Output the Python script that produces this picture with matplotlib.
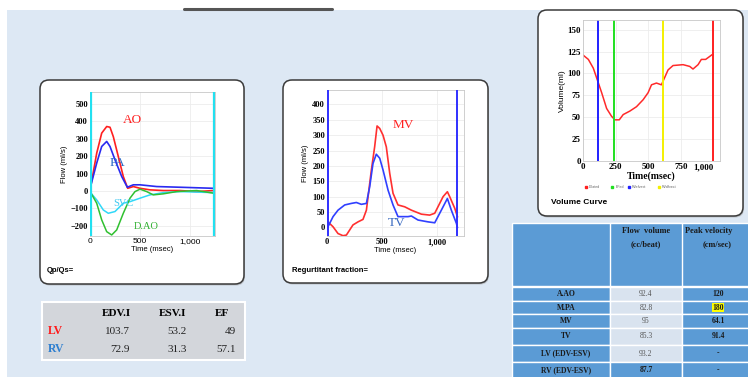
import matplotlib
matplotlib.use('Agg')
import matplotlib.pyplot as plt
from matplotlib.patches import FancyBboxPatch, Rectangle

W, H = 748, 377
SERIF = 'Liberation Serif'
SANS = 'Liberation Sans'

# flow curves (Qp/Qs panel)
t_ao = [10, 67, 117, 167, 200, 233, 283, 333, 377, 433, 500, 600, 733, 900, 1067, 1233]
f_ao = [35, 217, 333, 371, 367, 313, 198, 83, 15, 25, 15, 6, 2, 2, -4, 2]
t_pa = [10, 67, 117, 167, 200, 250, 317, 373, 433, 500, 667, 900, 1233]
f_pa = [35, 160, 256, 285, 256, 179, 83, 21, 35, 35, 25, 21, 15]
t_svc = [10, 67, 133, 183, 250, 333, 400, 500, 600, 733, 900, 1233]
f_svc = [-13, -52, -110, -129, -119, -71, -62, -42, -23, -10, -4, -10]
t_dao = [10, 67, 117, 167, 217, 267, 333, 400, 450, 500, 567, 633, 733, 867, 1067, 1233]
f_dao = [-13, -71, -167, -235, -254, -225, -129, -42, -4, 10, -4, -23, -17, -4, 2, -13]

# valve flow (regurgitant panel)
t_mv = [9, 55, 100, 145, 176, 236, 282, 327, 358, 403, 433, 455, 479, 509, 539, 570, 600,
        645, 706, 767, 858, 933, 979, 1024, 1055, 1094, 1115, 1161, 1185]
f_mv = [18, 2, -20, -27, -25, 8, 18, 26, 56, 186, 262, 330, 322, 300, 262, 176, 111,
        73, 67, 56, 43, 40, 46, 78, 100, 116, 100, 62, 35]
t_tv = [9, 55, 100, 161, 221, 267, 312, 358, 388, 418, 448, 479, 509, 555, 600, 645, 736,
        767, 827, 918, 979, 1039, 1094, 1130, 1176, 1185]
f_tv = [2, 35, 56, 73, 78, 81, 75, 78, 132, 208, 238, 225, 187, 121, 73, 35, 35,
        37, 24, 18, 15, 56, 94, 56, 13, 0]

# volume curve
t_vol = [0, 41, 79, 118, 143, 181, 219, 245, 278, 308, 359, 410, 461, 499, 525, 563, 601,
         622, 652, 690, 767, 818, 843, 882, 907, 940, 995]
v_vol = [121, 116, 106, 89, 78, 60, 51, 47, 47, 53, 57, 62, 70, 78, 87, 89, 87,
         94, 104, 109, 110, 108, 105, 110, 116, 116, 122]
vol_markers = [112, 240, 614, 995]
vol_marker_colors = ['#2020ff', '#20e020', '#f4f000', '#ff2020']
vol_legend = ['Dilated', 'EFed', 'RVefvect', 'RVdfvect']
vol_legend_colors = ['#ff2020', '#20e020', '#2020ff', '#f4f000']

# ventricle table
vent_cols = ['EDV.I', 'ESV.I', 'EF']
vent_rows = ['LV', 'RV']
lv_vals = ['103.7', '53.2', '49']
rv_vals = ['72.9', '31.3', '57.1']

# flow table
flow_rows = ['A.AO', 'M.PA', 'MV', 'TV', 'LV (EDV-ESV)', 'RV (EDV-ESV)']
flow_volume = ['92.4', '82.8', '95', '85.3', '93.2', '87.7']
peak_velocity = ['120', '180', '64.1', '91.4', '-', '-']


def px_axes(fig, l, t, r, b):
    return fig.add_axes([l / W, 1 - b / H, (r - l) / W, (b - t) / H])


fig = plt.figure(figsize=(W / 100, H / 100), dpi=100)
fig.patch.set_facecolor('white')

bg = fig.add_axes([0, 0, 1, 1])
bg.set_xlim(0, W)
bg.set_ylim(H, 0)
bg.axis('off')
bg.set_zorder(0)

bg.add_patch(Rectangle((7, 10), W - 7, H - 10, facecolor='#dde8f4', edgecolor='none'))
bg.plot([184, 332], [9, 9], color='#555555', lw=2.2, solid_capstyle='round')

# panels
for (x0, y0, x1, y1) in [(40, 80, 244, 284), (283, 80, 488, 283), (538, 10, 743, 216)]:
    bg.add_patch(FancyBboxPatch((x0 + 1, y0 + 1.5), x1 - x0, y1 - y0,
                                boxstyle='round,pad=0,rounding_size=9',
                                facecolor='#9a9a9a', edgecolor='none', alpha=0.5))
    bg.add_patch(FancyBboxPatch((x0, y0), x1 - x0, y1 - y0,
                                boxstyle='round,pad=0,rounding_size=9',
                                facecolor='white', edgecolor='#3a3a3a', lw=1.1))

bg.text(47, 271, 'Qp/Qs=', fontsize=5.5, fontweight='bold', family=SANS, va='center')
bg.text(292, 270, 'Regurtitant fraction=', fontsize=5.5, fontweight='bold', family=SANS, va='center')
bg.text(551, 203, 'Volume Curve', fontsize=6, fontweight='bold', family=SANS, va='center')

# ventricle table
bg.add_patch(Rectangle((42, 302), 203, 58, facecolor='#d3d6db', edgecolor='white', lw=1.5))
col_x = [116, 173, 222]
for j, c in enumerate(vent_cols):
    bg.text(col_x[j], 314, c, fontsize=8, fontweight='bold', family=SERIF, ha='center', va='center')
for i, (name, vals, colr) in enumerate(zip(vent_rows, [lv_vals, rv_vals], ['#ff1a1a', '#2f7fd0'])):
    y = 331 + i * 18
    bg.text(48, y, name, fontsize=8.5, fontweight='bold', family=SERIF, color=colr, va='center')
    for j, v in enumerate(vals):
        bg.text(col_x[j] + 14, y, v, fontsize=8, family=SERIF, ha='right', va='center', color='#222222')

# flow table
blue = '#5b9bd5'
light = '#d9e3ef'
cx = [512, 610, 682, 760]
bg.add_patch(Rectangle((cx[0], 223), cx[3] - cx[0], 63, facecolor=blue, edgecolor='white', lw=1))
bg.add_patch(Rectangle((cx[1], 223), cx[2] - cx[1], 63, facecolor=blue, edgecolor='white', lw=1))
bg.text((cx[1] + cx[2]) / 2, 231, 'Flow  volume', fontsize=6, fontweight='bold', family=SERIF,
        ha='center', va='center', color='#1a1a1a')
bg.text((cx[1] + cx[2]) / 2, 244, '(cc/beat)', fontsize=6, fontweight='bold', family=SERIF,
        ha='center', va='center', color='#1a1a1a')
bg.text(cx[2] + 3, 231, 'Peak velocity', fontsize=6, fontweight='bold', family=SERIF,
        ha='left', va='center', color='#1a1a1a')
bg.text((cx[2] + 748) / 2 + 2, 244, '(cm/sec)', fontsize=6, fontweight='bold', family=SERIF,
        ha='center', va='center', color='#1a1a1a')
row_y = [287, 301, 314, 328, 345, 362, 378]
for i, name in enumerate(flow_rows):
    y0, y1 = row_y[i], row_y[i + 1]
    ym = (y0 + y1) / 2
    mid_col = blue if i == len(flow_rows) - 1 else light
    bg.add_patch(Rectangle((cx[0], y0), cx[1] - cx[0], y1 - y0, facecolor=blue, edgecolor='white', lw=1))
    bg.add_patch(Rectangle((cx[1], y0), cx[2] - cx[1], y1 - y0, facecolor=mid_col, edgecolor='white', lw=1))
    bg.add_patch(Rectangle((cx[2], y0), cx[3] - cx[2], y1 - y0, facecolor=blue, edgecolor='white', lw=1))
    bg.text((cx[0] + cx[1]) / 2 + 5, ym, name, fontsize=5.5, fontweight='bold', family=SERIF,
            ha='center', va='center', color='#1a1a1a')
    bg.text((cx[1] + cx[2]) / 2, ym, flow_volume[i], fontsize=5.5,
            fontweight='bold' if i == len(flow_rows) - 1 else 'normal', family=SERIF,
            ha='center', va='center', color='#1a1a1a' if i == len(flow_rows) - 1 else '#555555')
    bb = dict(boxstyle='square,pad=0.05', facecolor='#ffff00', edgecolor='none') if peak_velocity[i] == '180' else None
    bg.text(718, ym, peak_velocity[i], fontsize=5.5, fontweight='bold', family=SERIF,
            ha='center', va='center', color='#1a1a1a', bbox=bb)


def style_axes(ax, ysize=6, xfamily=SANS, yfamily=SERIF):
    ax.set_facecolor('white')
    ax.set_zorder(2)
    ax.grid(True, color='#ececec', lw=0.6)
    ax.set_axisbelow(True)
    for s in ax.spines.values():
        s.set_color('#c8c8c8')
        s.set_linewidth(0.6)
    ax.tick_params(length=0, pad=1.5)
    for lab in ax.get_xticklabels():
        lab.set_family(xfamily)
        lab.set_fontsize(ysize)
    for lab in ax.get_yticklabels():
        lab.set_family(yfamily)
        lab.set_fontsize(ysize)
        lab.set_fontweight('bold')


# panel 1: flow curves
ax1 = px_axes(fig, 90, 92, 215, 236)
ax1.plot(t_ao, f_ao, color='#ff2020', lw=1.2)
ax1.plot(t_pa, f_pa, color='#2a2af0', lw=1.2)
ax1.plot(t_svc, f_svc, color='#30d8f8', lw=1.1)
ax1.plot(t_dao, f_dao, color='#30c030', lw=1.1)
for xv in [8, 1240]:
    ax1.axvline(xv, color='#22e0f0', lw=1.6, zorder=5)
ax1.set_xlim(0, 1250)
ax1.set_ylim(-260, 570)
ax1.set_xticks([0, 500, 1000])
ax1.set_xticklabels(['0', '500', '1,000'])
ax1.set_yticks([-200, -100, 0, 100, 200, 300, 400, 500])
style_axes(ax1)
ax1.set_ylabel('Flow (ml/s)', fontsize=5.5, family=SANS, labelpad=2)
ax1.set_xlabel('Time (msec)', fontsize=5.5, family=SANS, labelpad=0.5)
ax1.text(333, 410, 'AO', color='#ff2020', fontsize=9.5, family=SERIF, va='center')
ax1.text(200, 160, 'PA', color='#2a6ac8', fontsize=9.5, family=SERIF, va='center')
ax1.text(233, -71, 'SVC', color='#40c8f0', fontsize=7.5, family=SERIF, va='center')
ax1.text(433, -206, 'D.AO', color='#30b030', fontsize=7.5, family=SERIF, va='center')

# panel 2: valve flows
ax2 = px_axes(fig, 327, 90, 464, 236)
ax2.plot(t_mv, f_mv, color='#ff3030', lw=1.2)
ax2.plot(t_tv, f_tv, color='#3040ff', lw=1.2)
for xv in [7, 1185]:
    ax2.axvline(xv, color='#3030ff', lw=1.4, zorder=5)
ax2.set_xlim(0, 1245)
ax2.set_ylim(-28, 447)
ax2.set_xticks([0, 500, 1000])
ax2.set_xticklabels(['0', '500', '1,000'])
ax2.set_yticks(range(0, 401, 50))
style_axes(ax2, xfamily=SERIF)
for lab in ax2.get_xticklabels():
    lab.set_fontweight('bold')
ax2.set_ylabel('Flow (ml/s)', fontsize=5.5, family=SANS, labelpad=2)
ax2.set_xlabel('Time (msec)', fontsize=5.5, family=SANS, labelpad=0.5)
ax2.text(600, 333, 'MV', color='#ff2020', fontsize=9.5, family=SERIF, va='center')
ax2.text(555, 13, 'TV', color='#3a6ac0', fontsize=9.5, family=SERIF, va='center')

# panel 3: volume curve
ax3 = px_axes(fig, 583, 20, 720, 161)
ax3.plot(t_vol, v_vol, color='#ff2a2a', lw=1.1)
for xv, c in zip(vol_markers, vol_marker_colors):
    ax3.axvline(xv, color=c, lw=1.4)
ax3.set_xlim(0, 1050)
ax3.set_ylim(0, 161)
ax3.set_xticks([0, 250, 500, 750, 1000])
ax3.set_xticklabels(['0', '250', '500', '750', '1,000'])
ax3.set_yticks(range(0, 151, 25))
style_axes(ax3, ysize=6.5, xfamily=SERIF)
for lab in ax3.get_xticklabels():
    lab.set_fontweight('bold')
ax3.get_xticklabels()[-1].set_horizontalalignment('right')
ax3.set_ylabel('Volume(ml)', fontsize=6, family=SANS, labelpad=1)
ax3.set_xlabel('Time(msec)', fontsize=7, family=SERIF, fontweight='bold', labelpad=0.5)

lx = 586
for lab, c in zip(vol_legend, vol_legend_colors):
    bg.plot([lx], [187], marker='s', ms=1.5, color=c, ls='none')
    bg.text(lx + 3, 187, lab, fontsize=2.6, family=SANS, va='center', color='#666666')
    lx += 4 + len(lab) * 3.2

fig.savefig('out.png', dpi=100)
